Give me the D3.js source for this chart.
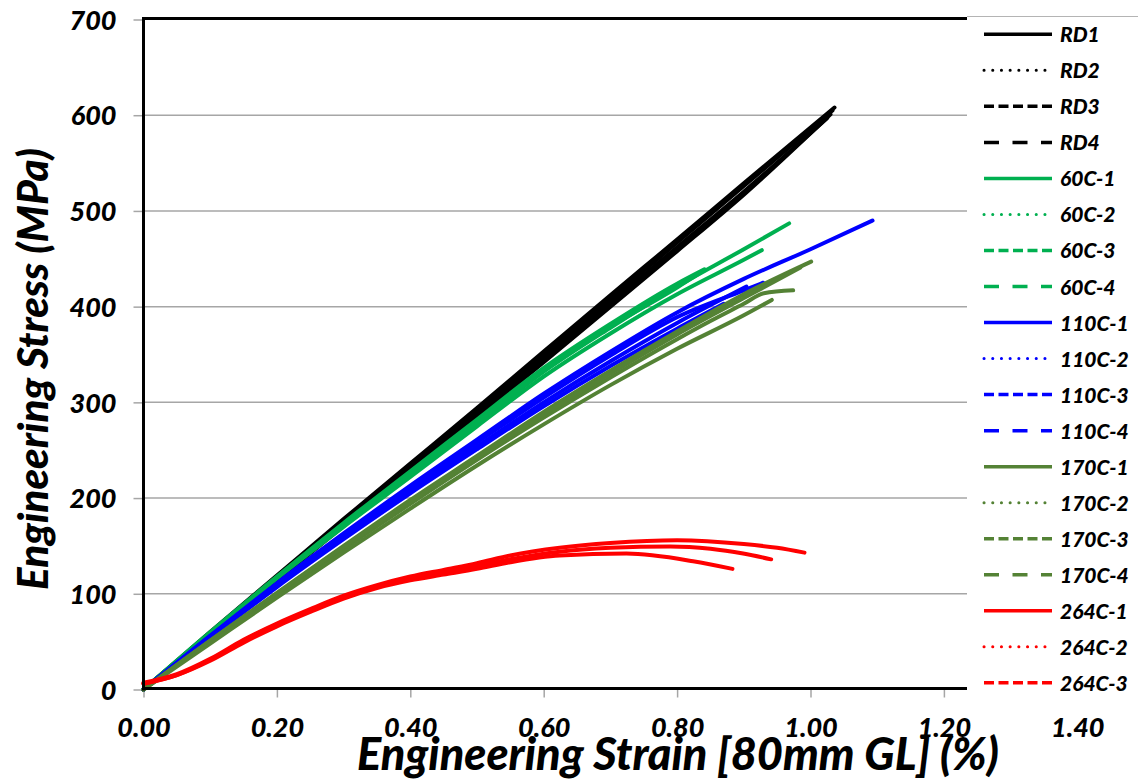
<!DOCTYPE html>
<html>
<head>
<meta charset="utf-8">
<script src="https://cdn.jsdelivr.net/npm/d3@7"></script>
<style>
  html, body { margin: 0; padding: 0; background: #fff; }
  svg { display: block; font-family: Lato, "Open Sans", sans-serif; font-weight: 900; font-style: italic; }
</style>
</head>
<body>
<svg id="chart" width="1138" height="782"></svg>
<script>
// Tensile test curves: engineering strain (%) vs engineering stress (MPa)
const xTicks = [0, 0.2, 0.4, 0.6, 0.8, 1.0, 1.2, 1.4];
const yTicks = [0, 100, 200, 300, 400, 500, 600, 700];

const seriesNames = ["RD1", "RD2", "RD3", "RD4",
  "60C-1", "60C-2", "60C-3", "60C-4",
  "110C-1", "110C-2", "110C-3", "110C-4",
  "170C-1", "170C-2", "170C-3", "170C-4",
  "264C-1", "264C-2", "264C-3"];

const seriesGroup = ["RD", "RD", "RD", "RD",
  "60C", "60C", "60C", "60C",
  "110C", "110C", "110C", "110C",
  "170C", "170C", "170C", "170C",
  "264C", "264C", "264C"];

const groupColors = { RD: "#000000", "60C": "#00b050", "110C": "#0000ff", "170C": "#548235", "264C": "#ff0000" };
const seriesDash = ["solid", "dot", "dash", "longdash",
  "solid", "dot", "dash", "longdash",
  "solid", "dot", "dash", "longdash",
  "solid", "dot", "dash", "longdash",
  "solid", "dot", "dash"];

// [strain %, stress MPa]
const rd1 = [[0,0],[0.1,60],[0.2,119],[0.3,178],[0.4,236],[0.5,294],[0.6,353],[0.7,412],[0.8,470],[0.9,529],[1.036,608]];
const rd2 = [[0,0],[0.1,57],[0.2,114],[0.3,171],[0.4,228],[0.5,285],[0.6,342],[0.7,400],[0.8,458],[0.9,517],[1.03,601]];
const rd3 = [[0,0],[0.1,59],[0.2,117],[0.3,176],[0.4,234],[0.5,292],[0.6,350],[0.7,408],[0.8,467],[0.9,526],[1.033,605]];
const rd4 = [[0,0],[0.1,58],[0.2,115],[0.3,173],[0.4,231],[0.5,288],[0.6,346],[0.7,404],[0.8,462],[0.9,520],[1.025,597]];

const c60_1 = [[0,0],[0.1,59],[0.2,117],[0.3,172],[0.4,225],[0.5,278],[0.6,332],[0.7,378],[0.8,421],[0.9,460],[0.968,487]];
const c60_2 = [[0,0],[0.1,58],[0.2,116],[0.3,170],[0.4,222],[0.5,275],[0.6,327],[0.7,372],[0.8,413],[0.9,449],[0.927,459]];
const c60_3 = [[0,0],[0.1,60],[0.2,118],[0.3,174],[0.4,228],[0.5,282],[0.6,336],[0.7,382],[0.8,424],[0.841,439]];
const c60_4 = [[0,0],[0.1,59],[0.2,117],[0.3,173],[0.4,226],[0.5,279],[0.6,333],[0.7,379],[0.8,420],[0.834,435]];

const c110_1 = [[0,0],[0.1,56],[0.2,111],[0.3,163],[0.4,213],[0.5,261],[0.6,309],[0.7,353],[0.8,394],[0.9,429],[1.0,460],[1.093,490]];
const c110_2 = [[0,0],[0.1,56],[0.2,110],[0.3,162],[0.4,211],[0.5,258],[0.6,305],[0.7,349],[0.8,389],[0.9,417],[0.929,425]];
const c110_3 = [[0,0],[0.1,55],[0.2,108],[0.3,159],[0.4,208],[0.5,254],[0.6,300],[0.7,343],[0.8,383],[0.904,421]];
const c110_4 = [[0,0],[0.1,54],[0.2,107],[0.3,157],[0.4,205],[0.5,251],[0.6,296],[0.7,338],[0.8,377],[0.87,403]];

const c170_1 = [[0,0],[0.1,51],[0.2,101],[0.3,150],[0.4,198],[0.5,244],[0.6,290],[0.7,333],[0.8,374],[0.9,413],[1.001,447]];
const c170_2 = [[0,0],[0.1,50],[0.2,99],[0.3,147],[0.4,194],[0.5,240],[0.6,284],[0.7,326],[0.8,366],[0.85,385],[0.9,403],[0.93,414],[0.974,417]];
const c170_3 = [[0,0],[0.1,51],[0.2,100],[0.3,149],[0.4,196],[0.5,242],[0.6,287],[0.7,330],[0.8,371],[0.9,409],[0.985,441]];
const c170_4 = [[0,0],[0.1,48],[0.2,96],[0.3,143],[0.4,189],[0.5,234],[0.6,277],[0.7,318],[0.8,356],[0.9,391],[0.942,407]];

const c264_1 = [[0,7],[0.05,16],[0.1,32],[0.15,52],[0.2,69],[0.25,84],[0.3,98],[0.35,109],[0.4,118],[0.45,125],[0.5,132],[0.55,140],[0.624,148],[0.7,153],[0.8,156],[0.9,152],[0.95,148],[0.991,143]];
const c264_2 = [[0,6],[0.05,15],[0.1,31],[0.15,51],[0.2,68],[0.25,83],[0.3,97],[0.35,108],[0.4,116],[0.45,123],[0.5,129],[0.55,136],[0.624,144],[0.7,148],[0.79,149.5],[0.85,147],[0.899,142],[0.941,136]];
const c264_3 = [[0,6],[0.05,15],[0.1,30],[0.15,49],[0.2,66],[0.25,81],[0.3,95],[0.35,106],[0.4,114],[0.45,120],[0.5,126],[0.55,133],[0.624,140],[0.724,142],[0.824,134],[0.883,126]];

const seriesData = [rd1, rd2, rd3, rd4, c60_1, c60_2, c60_3, c60_4,
  c110_1, c110_2, c110_3, c110_4, c170_1, c170_2, c170_3, c170_4,
  c264_1, c264_2, c264_3];

const dashArrays = { solid: null, dot: "0.1 8.6", dash: "10 4.5", longdash: "15 13.5" };

const svg = d3.select("#chart");

// Plot frame
const x0 = 143.5, xEnd = 1077.3;     // pixel positions of 0.00 and 1.40
const plotRight = 967;                // plot area ends where the legend begins
const yBottom = 689.5, yTop = 19.5;

const x = d3.scaleLinear().domain([0, 1.4]).range([x0, xEnd]);
const y = d3.scaleLinear().domain([0, 700]).range([yBottom, yTop]);

// Horizontal gridlines
svg.append("g")
  .selectAll("line")
  .data(yTicks.filter(v => v > 0 && v < 700))
  .join("line")
  .attr("x1", x0).attr("x2", plotRight)
  .attr("y1", d => y(d)).attr("y2", d => y(d))
  .attr("stroke", "#a6a6a6").attr("stroke-width", 1.5);

// Legend box top edge
svg.append("line")
  .attr("x1", plotRight).attr("x2", 1138)
  .attr("y1", 16.5).attr("y2", 16.5)
  .attr("stroke", "#b4b4b4").attr("stroke-width", 1);

const tickFont = sel => sel
  .attr("fill", "#000")
  .style("font-family", "Lato, sans-serif").style("font-size", "27px")
  .style("font-weight", 900).style("font-style", "italic");

// Y axis
const yAxis = svg.append("g")
  .attr("transform", `translate(${x0},0)`)
  .call(d3.axisLeft(y).tickValues(yTicks).tickSize(10).tickFormat(d3.format("d")));
yAxis.select(".domain").remove();
yAxis.selectAll(".tick line").attr("stroke", "#a6a6a6").attr("stroke-width", 1.5);
yAxis.selectAll(".tick text")
  .attr("x", -27).attr("dy", "0.36em")
  .call(tickFont);

// X axis
const xAxis = svg.append("g")
  .attr("transform", `translate(0,${yBottom})`)
  .call(d3.axisBottom(x).tickValues(xTicks).tickSize(8).tickFormat(d3.format(".2f")));
xAxis.select(".domain").remove();
xAxis.selectAll(".tick line")
  .attr("stroke", "#a6a6a6").attr("stroke-width", 1.5)
  .attr("display", d => x(d) > plotRight ? "none" : null);
xAxis.selectAll(".tick text")
  .attr("y", 47).attr("dy", 0)
  .call(tickFont);

// Curves
const line = d3.line()
  .x(d => x(d[0]))
  .y(d => y(d[1]))
  .curve(d3.curveMonotoneX);

svg.append("g")
  .selectAll("path")
  .data(seriesData)
  .join("path")
  .attr("d", d => line(d))
  .attr("fill", "none")
  .attr("stroke", (d, i) => groupColors[seriesGroup[i]])
  .attr("stroke-width", 4)
  .attr("stroke-linejoin", "round")
  .attr("stroke-linecap", "round");

// Axis lines and top frame
svg.append("line")
  .attr("x1", x0).attr("x2", x0)
  .attr("y1", yTop - 1.5).attr("y2", yBottom + 1)
  .attr("stroke", "#000").attr("stroke-width", 3);
svg.append("line")
  .attr("x1", x0 - 1.5).attr("x2", plotRight)
  .attr("y1", yBottom - 1).attr("y2", yBottom - 1)
  .attr("stroke", "#000").attr("stroke-width", 3);
svg.append("line")
  .attr("x1", x0 - 1.5).attr("x2", plotRight)
  .attr("y1", yTop - 1).attr("y2", yTop - 1)
  .attr("stroke", "#000").attr("stroke-width", 3);

// Legend
const legendTop = 34.3, legendStep = 36.03;
const legend = svg.append("g")
  .selectAll("g")
  .data(seriesNames)
  .join("g")
  .attr("transform", (d, i) => `translate(0,${legendTop + i * legendStep})`);

legend.append("line")
  .attr("x1", 984).attr("x2", (d, i) => seriesDash[i] === "dot" ? 1045 : 1052)
  .attr("y1", 0).attr("y2", 0)
  .attr("stroke", (d, i) => groupColors[seriesGroup[i]])
  .attr("stroke-width", (d, i) => seriesDash[i] === "dot" ? 3 : 3.5)
  .attr("stroke-linecap", (d, i) => seriesDash[i] === "dot" ? "round" : "butt")
  .attr("stroke-dasharray", (d, i) => dashArrays[seriesDash[i]]);

legend.append("text")
  .attr("x", 1060).attr("y", 8)
  .attr("fill", "#000")
  .style("font-size", "21px")
  .text(d => d);

// Axis titles
function fitText(sel, width) {
  const w = sel.node().getComputedTextLength();
  const fs = parseFloat(sel.style("font-size"));
  sel.style("font-size", (fs * width / w) + "px");
}

const xTitle = svg.append("text")
  .attr("x", 678).attr("y", 770)
  .attr("text-anchor", "middle")
  .attr("fill", "#000")
  .style("font-size", "35px")
  .text("Engineering Strain [80mm GL] (%)");
fitText(xTitle, 642);

const yTitle = svg.append("text")
  .attr("transform", "translate(48,369) rotate(-90)")
  .attr("text-anchor", "middle")
  .attr("fill", "#000")
  .style("font-size", "35px")
  .text("Engineering Stress (MPa)");
fitText(yTitle, 442);
</script>
</body>
</html>
